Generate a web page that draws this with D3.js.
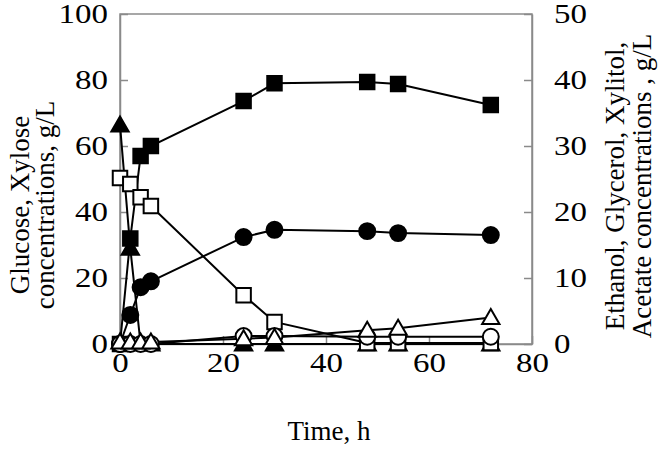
<!DOCTYPE html>
<html><head><meta charset="utf-8">
<script src="https://cdn.jsdelivr.net/npm/d3@7"></script>
<style>body{margin:0;background:#fff}svg{display:block}text{font-family:"Liberation Serif","Times New Roman",serif !important;fill:#000}</style>
</head><body><svg id="c" width="661" height="464"></svg>
<script>
const time = [0, 2, 4, 6, 24, 30, 48, 54, 72];
const glucose = [66.4, 29, 0, 0, 0, 0, 0, 0, 0];          // left, filled triangle
const xylose = [50.3, 48.5, 44.5, 41.8, 14.8, 6.7, 0.3, 0.3, 0.3]; // left, open square
const ethanol = [0, 16, 28.5, 30, 36.8, 39.5, 39.7, 39.4, 36.2];    // right, filled square
const xylitol = [0, 4.4, 8.6, 9.5, 16.2, 17.3, 17.1, 16.8, 16.5];   // right, filled circle
const glycerol = [0, 0, 0, 0, 1.2, 1.2, 1.1, 1.1, 1.1];             // right, open circle
const acetate = [0.3, 0.3, 0.3, 0.3, 0.8, 1.0, 2.1, 2.4, 4.0];      // right, open triangle
const xTicks = [0, 20, 40, 60, 80];
const yLeftTicks = [0, 20, 40, 60, 80, 100];
const yRightTicks = [0, 10, 20, 30, 40, 50];

const svg = d3.select("#c");
const L = 120, R = 532, T = 14, B = 344;
const x = d3.scaleLinear().domain([0, 80]).range([L, R]);
const yL = d3.scaleLinear().domain([0, 100]).range([B, T]);
const yR = d3.scaleLinear().domain([0, 50]).range([B, T]);
const axisCol = "#8a8a8a";
const fs = 27;
const sx = 1.22; // horizontal stretch of tick numerals

// frame
svg.append("rect").attr("x", L).attr("y", T).attr("width", R - L).attr("height", B - T)
  .attr("fill", "none").attr("stroke", axisCol).attr("stroke-width", 1.5);

// axes (ticks inward)
const gx = svg.append("g").attr("transform", `translate(0,${B})`)
  .call(d3.axisBottom(x).tickValues(xTicks).tickSizeInner(-8).tickSizeOuter(0).tickPadding(9));
const gl = svg.append("g").attr("transform", `translate(${L},0)`)
  .call(d3.axisLeft(yL).tickValues(yLeftTicks).tickSizeInner(-8).tickSizeOuter(0));
const gr = svg.append("g").attr("transform", `translate(${R},0)`)
  .call(d3.axisRight(yR).tickValues(yRightTicks).tickSizeInner(-8).tickSizeOuter(0));
[gx, gl, gr].forEach(g => {
  g.attr("font-family", null).attr("font-size", null);
  g.selectAll("path.domain").attr("stroke", axisCol).attr("stroke-width", 1.5);
  g.selectAll(".tick line").attr("stroke", axisCol).attr("stroke-width", 1.5);
  g.selectAll(".tick text").style("font-size", fs + "px").attr("fill", "#000")
    .attr("transform", `scale(${sx},1)`);
});
gx.selectAll(".tick text").attr("x", 0);
gl.selectAll(".tick text").attr("x", -12 / sx);
gr.selectAll(".tick text").attr("x", 22 / sx);

// titles
svg.append("text").attr("x", (L + R) / 2 + 3).attr("y", 440).attr("text-anchor", "middle")
  .style("font-size", fs + "px").text("Time, h");
svg.append("text").attr("transform", "translate(29,205) rotate(-90)").attr("text-anchor", "middle")
  .style("font-size", fs + "px").text("Glucose, Xylose");
svg.append("text").attr("transform", "translate(54,205) rotate(-90)").attr("text-anchor", "middle")
  .style("font-size", fs + "px").text("concentrations, g/L");
svg.append("text").attr("transform", "translate(624,186) rotate(-90)").attr("text-anchor", "middle")
  .style("font-size", fs + "px").text("Ethanol, Glycerol, Xylitol,");
svg.append("text").attr("transform", "translate(651,186) rotate(-90)").attr("text-anchor", "middle")
  .style("font-size", fs + "px").text("Acetate concentrations , g/L");

const series = [
  {v: glucose, y: yL, shape: "tri", fill: "#000"},
  {v: ethanol, y: yR, shape: "sq", fill: "#000"},
  {v: xylitol, y: yR, shape: "circ", fill: "#000"},
  {v: xylose, y: yL, shape: "sq", fill: "#fff"},
  {v: glycerol, y: yR, shape: "circ", fill: "#fff"},
  {v: acetate, y: yR, shape: "tri", fill: "#fff"}
];
const line = d3.line();
series.forEach(s => {
  svg.append("path").attr("d", line(time.map((t, i) => [x(t), s.y(s.v[i])])))
    .attr("fill", "none").attr("stroke", "#000").attr("stroke-width", 2);
});
const sym = {tri: d3.symbolTriangle, sq: d3.symbolSquare, circ: d3.symbolCircle};
const size = {tri: 130, sq: 210, circ: 200};
series.forEach(s => {
  svg.append("g").selectAll("path").data(time).join("path")
    .attr("d", d3.symbol().type(sym[s.shape]).size(size[s.shape]))
    .attr("transform", (t, i) => `translate(${x(t)},${s.y(s.v[i]) + (s.shape === "tri" ? 1.5 : 0)})`)
    .attr("fill", s.fill).attr("stroke", "#000").attr("stroke-width", 2);
});
</script></body></html>
